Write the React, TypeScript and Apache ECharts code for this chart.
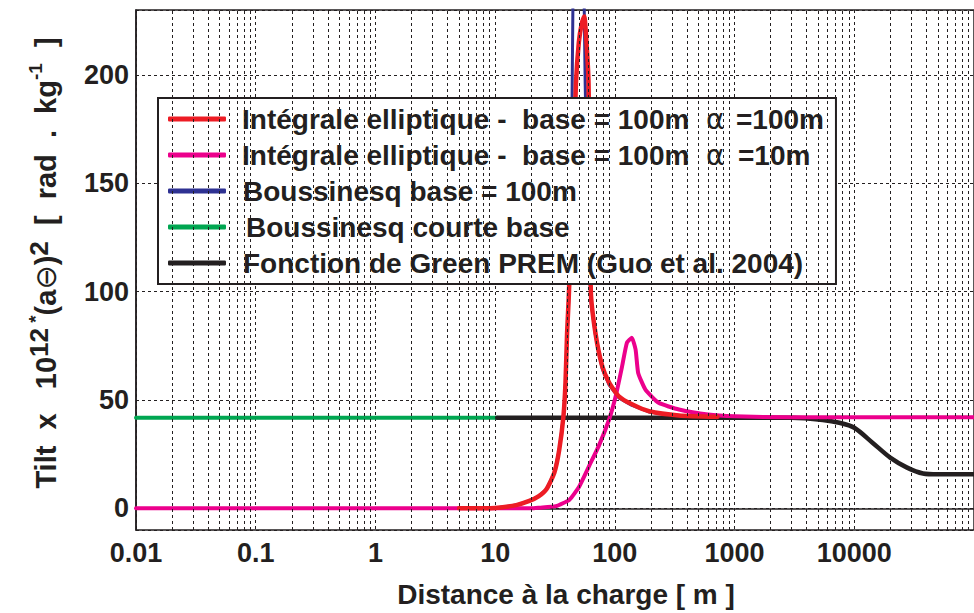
import React, { useEffect, useRef } from "react";
import * as echarts from "echarts";

// ---- data ----
const greenX = [0.01, 10.4];
const greenY = [41.8, 41.8];

const blackX = [10.4, 3000, 5445, 7500, 10000, 14190, 19950, 27600, 37500, 50000, 100000];
const blackY = [41.8, 41.8, 40.8, 39.5, 37.2, 30.3, 23.4, 18.8, 16.1, 15.7, 15.7];

const blueX = [5, 10, 15, 19.3, 23, 26.8, 31.2, 34.3, 37.2, 38.7, 39.9, 41.1, 43, 44.6, 45, 54.5, 55.5, 56.5, 60, 63, 68.8, 78.4, 89.5, 108, 139, 193, 343, 720];
const blueY = [0, 0.2, 1.5, 3.4, 5.5, 8.8, 16.4, 27, 42.5, 58, 80, 95, 135, 230, 400, 400, 230, 196, 125, 96, 80, 64.5, 57, 51, 47.5, 44.5, 42.8, 42.2];

const magentaX = [0.01, 20, 23.4, 32.2, 41.8, 50.3, 60.9, 73.3, 89.5, 101.6, 115, 126, 138.6, 149, 156.6, 180, 232, 343, 600, 1000, 3000, 100000];
const magentaY = [0, 0, 0.3, 1, 4, 10, 19.5, 28.7, 41, 51.7, 65.6, 76.4, 78.7, 73.3, 62.5, 54.8, 48.7, 45.6, 43.3, 42.5, 42, 42];

const redX = [5, 10, 15, 19.3, 23, 26.8, 31.2, 34.3, 37.2, 38.7, 39.9, 41.1, 43, 45.5, 47.3, 50, 53, 55.5, 57.5, 60.3, 63, 68.8, 78.4, 89.5, 108, 139, 193, 343, 720];
const redY = [0, 0.2, 1.5, 3.4, 5.5, 8.8, 16.4, 27, 42.5, 58, 81, 96, 125, 165, 196, 215, 224, 227, 218, 196, 100, 81, 65.6, 58, 51.7, 48, 44.8, 42.9, 42.3];

const xDecades = [0.01, 0.1, 1, 10, 100, 1000, 10000];
const minorFactors = [2, 3, 4, 5, 6, 7, 8, 9];

const names = {
  red: "Intégrale elliptique -  base = 100m  α =100m",
  magenta: "Intégrale elliptique -  base = 100m  α =10m",
  blue: "Boussinesq base = 100m",
  green: "Boussinesq courte base",
  black: "Fonction de Green PREM (Guo et al. 2004)",
};

const C = {
  red: "#ED1C24",
  magenta: "#EC008C",
  blue: "#2E3192",
  green: "#00A651",
  black: "#231F20",
};

const pair = (xs: number[], ys: number[]) => xs.map((x, i) => [x, ys[i]]);

const FONT = "'Liberation Sans', Arial, Helvetica, sans-serif";
const TXT = "#231F20";

export default function App() {
  const ref = useRef<HTMLDivElement>(null);
  useEffect(() => {
    if (!ref.current) return;
    const chart = echarts.init(ref.current, null, { renderer: "svg" });
    const minorVals: number[] = [];
    xDecades.forEach((d) => minorFactors.forEach((f) => minorVals.push(Number((d * f).toPrecision(6)))));
    const dotted = { type: [3, 3] as any, color: TXT, width: 1 };
    const lineS = (name: string, color: string, data: number[][], width: number, smooth: any) => ({
      name,
      type: "line",
      data,
      symbol: "none",
      smooth,
      lineStyle: { color, width, cap: "round", join: "round" },
      itemStyle: { color },
      clip: true,
    });
    const legendFmt = (name: string) => {
      if (name === names.red) return "{a|Intégrale elliptique -  base = 100m}{g|α}{b|=100m}";
      if (name === names.magenta) return "{a|Intégrale elliptique -  base = 100m}{g|α}{c|=10m}";
      if (name === names.green) return "{m|" + name + "}";
      return "{n|" + name + "}";
    };
    const base = { fontFamily: FONT, fontWeight: "bold", fontSize: 28, color: TXT, lineHeight: 32 };
    chart.setOption({
      animation: false,
      backgroundColor: "#fff",
      grid: {
        left: 136,
        top: 10,
        right: -2,
        bottom: 81,
        show: true,
        borderColor: TXT,
        borderWidth: 1.5,
        backgroundColor: "transparent",
      },
      legend: {
        orient: "vertical",
        left: 158,
        top: 98,
        padding: [5, 12, 5, 10],
        itemGap: 4,
        itemWidth: 58,
        itemHeight: 5,
        icon: "roundRect",
        backgroundColor: "#fff",
        borderColor: TXT,
        borderWidth: 2,
        borderRadius: 0,
        data: [names.red, names.magenta, names.blue, names.green, names.black],
        formatter: legendFmt,
        textStyle: {
          ...base,
          rich: {
            a: { ...base, width: 464, padding: [0, 0, 0, 11] },
            n: { ...base, padding: [0, 0, 0, 12] },
            m: { ...base, padding: [0, 0, 0, 15] },
            g: { fontFamily: "'DejaVu Sans', sans-serif", fontWeight: "normal", fontSize: 28, color: TXT, width: 30, lineHeight: 32 },
            b: { ...base },
            c: { ...base, padding: [0, 0, 0, 2] },
          },
        },
      },
      xAxis: {
        type: "log",
        logBase: 10,
        min: 0.01,
        max: 100000,
        name: "Distance à la charge [ m ]",
        nameLocation: "middle",
        nameGap: 50,
        nameTextStyle: { fontFamily: FONT, fontWeight: "bold", fontSize: 28, color: TXT, padding: [0, 0, 0, 22] },
        axisLine: { show: true, lineStyle: { color: TXT, width: 1.5 } },
        axisTick: { show: false },
        axisLabel: {
          showMaxLabel: false,
          margin: 9,
          fontFamily: FONT,
          fontWeight: "bold",
          fontSize: 27,
          color: TXT,
          formatter: (v: number) => String(Number(v.toPrecision(6))),
        },
        splitLine: { show: true, lineStyle: dotted },
      },
      yAxis: {
        type: "value",
        min: -10,
        max: 230,
        name:
          "{t|Tilt  x   10}{s|12}{ss| *}{t|(a}{th|⊖}{t|)}{s|2}{t|  [  rad  .  kg}{ss|-1}{t|  ]}",
        nameLocation: "middle",
        nameRotate: 90,
        nameGap: 70,
        nameTextStyle: {
          fontFamily: FONT,
          fontWeight: "bold",
          fontSize: 29,
          color: TXT,
          padding: [0, 0, 0, 14],
          rich: {
            t: { fontFamily: FONT, fontWeight: "bold", fontSize: 29, color: TXT, lineHeight: 40 },
            th: { fontFamily: "'DejaVu Sans', sans-serif", fontWeight: "normal", fontSize: 29, color: TXT, lineHeight: 40 },
            s: { fontFamily: FONT, fontWeight: "bold", fontSize: 26, color: TXT, lineHeight: 30, verticalAlign: "top" },
            ss: { fontFamily: FONT, fontWeight: "bold", fontSize: 19, color: TXT, lineHeight: 19, verticalAlign: "top" },
          },
        },
        axisLine: { show: true, lineStyle: { color: TXT, width: 1.5 } },
        axisTick: { show: false },
        axisLabel: {
          showMinLabel: false,
          showMaxLabel: false,
          margin: 7,
          fontFamily: FONT,
          fontWeight: "bold",
          fontSize: 27,
          color: TXT,
        },
        splitLine: { show: true, lineStyle: dotted },
      },
      series: [
        {
          name: "minor-grid",
          type: "line",
          data: [],
          silent: true,
          markLine: {
            silent: true,
            symbol: ["none", "none"],
            label: { show: false },
            lineStyle: dotted,
            emphasis: { disabled: true },
            data: minorVals.map((v) => ({ xAxis: v })),
          },
        },
        lineS(names.green, C.green, pair(greenX, greenY), 4, false),
        lineS(names.black, C.black, pair(blackX, blackY), 4.5, 0.3),
        lineS(names.blue, C.blue, pair(blueX, blueY), 3, false),
        lineS(names.magenta, C.magenta, pair(magentaX, magentaY), 4, 0.15),
        lineS(names.red, C.red, pair(redX, redY), 4.5, 0.2),
      ],
    });
    return () => chart.dispose();
  }, []);
  return (
    <div
      ref={ref}
      style={{ position: "fixed", left: 0, top: 0, width: 974, height: 613, background: "#fff" }}
    />
  );
}
